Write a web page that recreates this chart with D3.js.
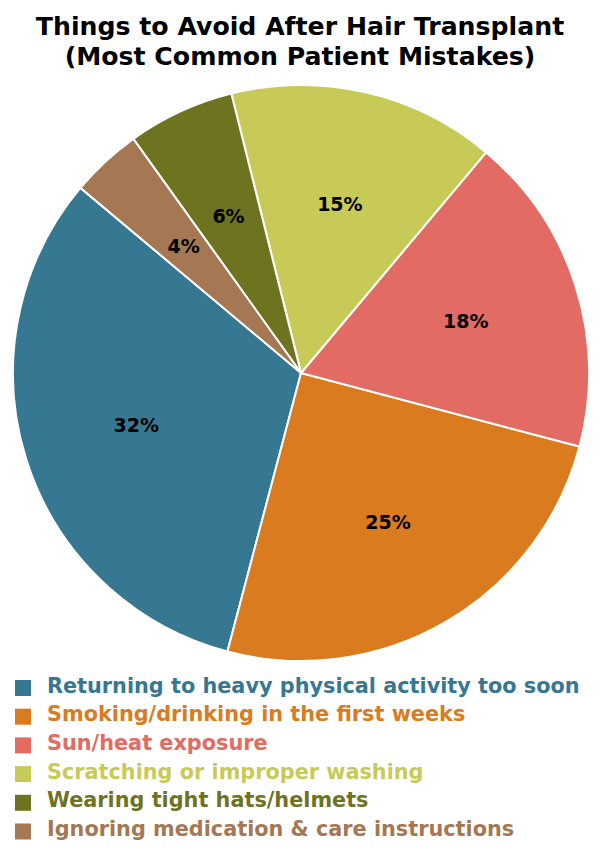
<!DOCTYPE html>
<html><head><meta charset="utf-8">
<script src="https://cdn.jsdelivr.net/npm/d3@7"></script>
<style>body{margin:0;background:#fff}svg{display:block}text{font-family:"DejaVu Sans",sans-serif;font-weight:bold}</style>
</head><body><svg id="c" width="600" height="850"></svg>
<script>
const categories = ["Returning to heavy physical activity too soon","Smoking/drinking in the first weeks","Sun/heat exposure","Scratching or improper washing","Wearing tight hats/helmets","Ignoring medication & care instructions"];
const values = [32,25,18,15,6,4];
const colors = ["#367892","#DB7B20","#E26B63","#C8CA57","#6E731F","#A57752"];
const titleLines = ["Things to Avoid After Hair Transplant","(Most Common Patient Mistakes)"];

const svg = d3.select("#c");
const cx = 301, cy = 373, R = 288;
svg.selectAll("text.title").data(titleLines).enter().append("text")
  .attr("x",300).attr("y",(d,i)=>35+i*30).attr("text-anchor","middle")
  .attr("font-size",25.2).attr("fill","#000").text(d=>d);

const start = -50*Math.PI/180;
const pie = d3.pie().sort(null).startAngle(start).endAngle(start-2*Math.PI);
const arcs = pie(values);
const arc = d3.arc().innerRadius(0).outerRadius(R);
const labelArc = d3.arc().innerRadius(R*0.6).outerRadius(R*0.6);
const g = svg.append("g").attr("transform",`translate(${cx},${cy})`);
g.selectAll("path").data(arcs).enter().append("path")
  .attr("d",arc).attr("fill",(d,i)=>colors[i]).attr("stroke","#fff").attr("stroke-width",2);
g.selectAll("text").data(arcs).enter().append("text")
  .attr("transform",d=>`translate(${labelArc.centroid(d)})`)
  .attr("text-anchor","middle").attr("dy","0.36em").attr("font-size",19).attr("fill","#000")
  .text(d=>d.data+"%");

const lg = svg.append("g");
const rows = lg.selectAll("g").data(categories).enter().append("g")
  .attr("transform",(d,i)=>`translate(0,${685+i*28.7})`);
rows.append("rect").attr("x",15).attr("y",-5).attr("width",16).attr("height",16).attr("fill",(d,i)=>colors[i]);
rows.append("text").attr("x",47).attr("y",0).attr("dy","0.36em").attr("font-size",20.8)
  .attr("fill",(d,i)=>colors[i]).text(d=>d);
</script></body></html>
